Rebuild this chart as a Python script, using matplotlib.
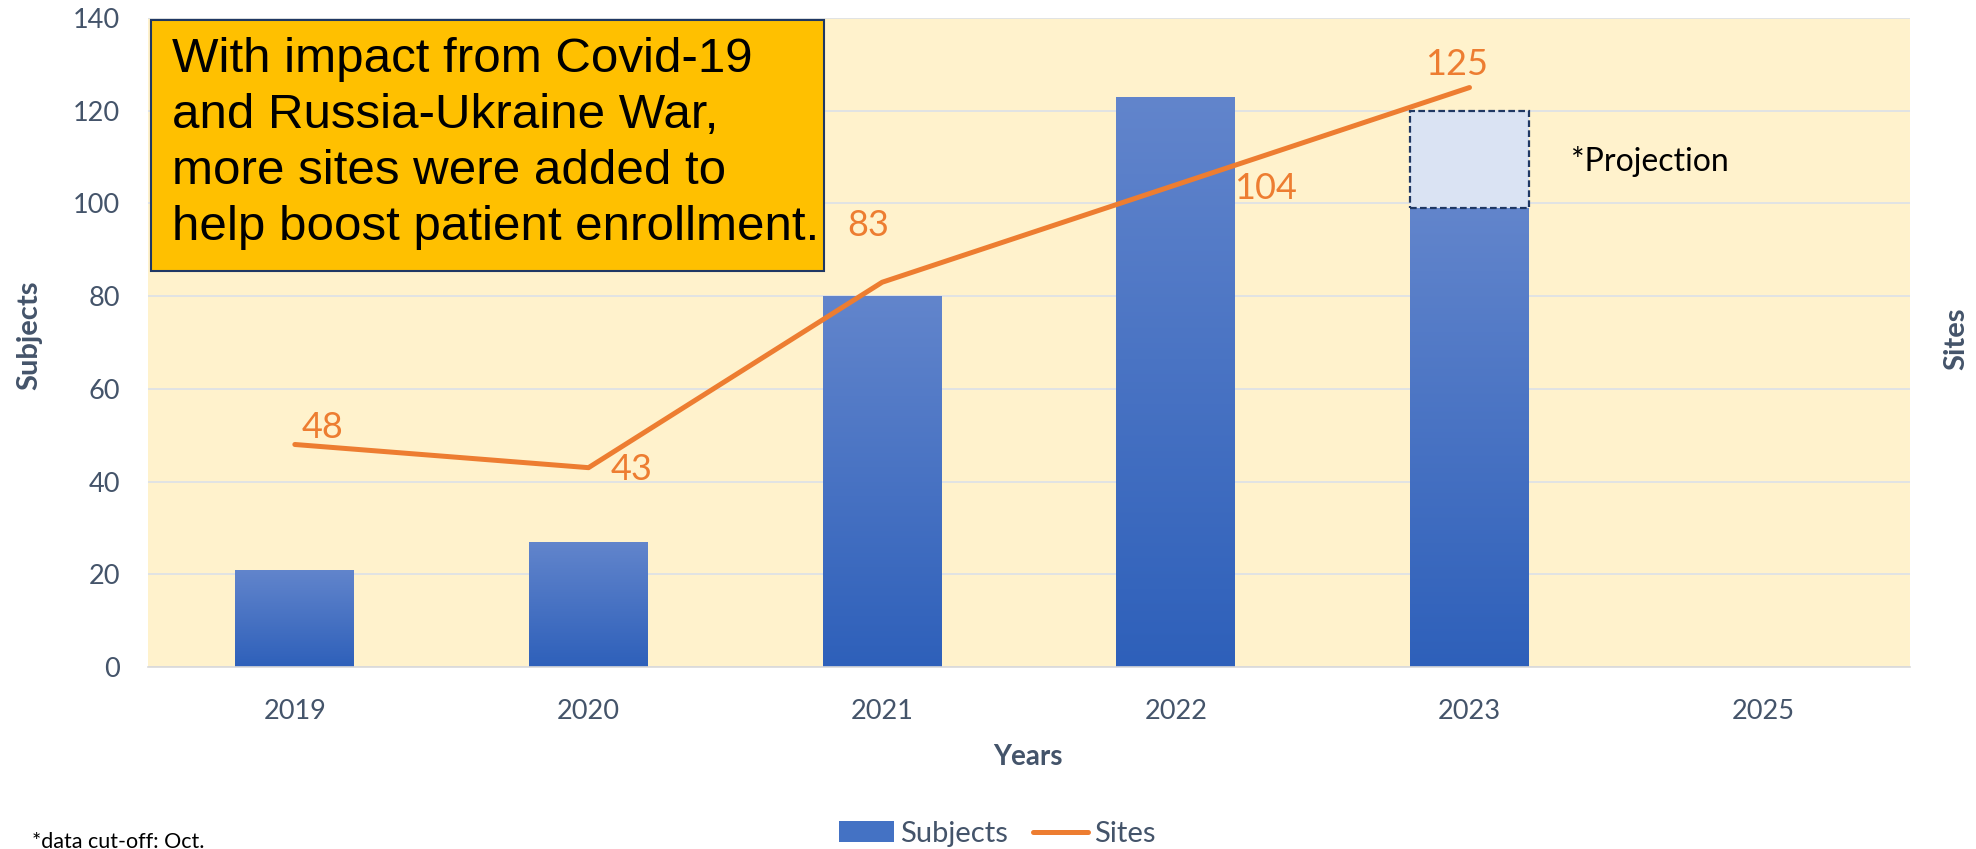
import numpy as np
import matplotlib.pyplot as plt
from matplotlib.colors import LinearSegmentedColormap
from matplotlib.patches import Rectangle, Patch
from matplotlib.lines import Line2D

# data
years = ['2019', '2020', '2021', '2022', '2023', '2025']
subjects = [21, 27, 80, 123, 99]
projected_top = 120          # 2023 projection goes up to this
sites = [48, 43, 83, 104, 125]

# label offsets (pixels) for the site labels
site_offsets = [(28, 17), (43, -2), (-14, 57), (90, -4), (-13, 23)]

W, H = 1976, 849
label_col = '#44546A'
orange = '#ED7D31'
font = 'Lato'

def fx(px):
    return px / W

def fy(py):
    return 1 - py / H

fig = plt.figure(figsize=(W / 100, H / 100), dpi=100)
ax = fig.add_axes([fx(148), fy(667), fx(1910) - fx(148), fy(18) - fy(667)])
ax.set_facecolor('#FFF2CC')

x = np.arange(len(years))
bw = 0.405

# gradient bars
cmap = LinearSegmentedColormap.from_list('bars', ['#2E60BA', '#6285CC'])
grad = np.linspace(0, 1, 256).reshape(-1, 1)
bars = ax.bar(x[:len(subjects)], subjects, width=bw, color='#4472C4', zorder=2)
for b in bars:
    x0, y0, w, h = b.get_x(), b.get_y(), b.get_width(), b.get_height()
    im = ax.imshow(grad, cmap=cmap, origin='lower', aspect='auto',
                   extent=[x0, x0 + w, y0, y0 + h], zorder=2)
    im.set_clip_path(b)

# projection box on top of 2023
i23 = years.index('2023')
ax.bar(x[i23], projected_top - subjects[i23], bottom=subjects[i23], width=bw,
       facecolor='#DAE3F3', edgecolor='#1F3864', linestyle=(0, (3, 1.5)),
       linewidth=1.6, zorder=3)
ax.text(i23 + 0.345, 109, '*Projection', fontsize=23, family=font,
        va='center', ha='left', color='black')

ax.set_xlim(-0.5, len(years) - 0.5)
ax.set_ylim(0, 140)
ax.set_yticks(range(0, 141, 20))
ax.set_xticks(x)
ax.set_xticklabels(years)
ax.set_axisbelow(True)
ax.yaxis.grid(True, color='#DCE0E8', linewidth=1.2)
for s in ['top', 'right', 'left']:
    ax.spines[s].set_visible(False)
ax.spines['bottom'].set_color('#D9D9D9')
ax.spines['bottom'].set_linewidth(1.2)
ax.tick_params(axis='both', length=0, labelsize=19.5, labelcolor=label_col)
ax.tick_params(axis='x', pad=23)
ax.tick_params(axis='y', pad=20)
for t in ax.get_xticklabels() + ax.get_yticklabels():
    t.set_family(font)

# sites line on secondary axis
ax2 = ax.twinx()
ax2.set_ylim(0, 140)
ax2.set_yticks([])
for s in ax2.spines.values():
    s.set_visible(False)
ax2.plot(x[:len(sites)], sites, color=orange, linewidth=3.6,
         solid_capstyle='round', solid_joinstyle='round', zorder=4)
for xi, v, off in zip(x, sites, site_offsets):
    ax2.annotate(str(v), (xi, v), xytext=off, textcoords='offset pixels',
                 ha='center', va='center', fontsize=26, family=font, color=orange)

# axis titles
fig.text(fx(29), fy(335), 'Subjects', rotation=90, ha='center', va='center',
         fontsize=21, fontweight='bold', family=font, color=label_col)
fig.text(fx(1956), fy(339), 'Sites', rotation=90, ha='center', va='center',
         fontsize=21, fontweight='bold', family=font, color=label_col)
fig.text(fx(1028), fy(757), 'Years', ha='center', va='center',
         fontsize=20, fontweight='bold', family=font, color=label_col)

# callout box
fig.add_artist(Rectangle((fx(151), fy(271)), fx(824) - fx(151), fy(20) - fy(271),
                         transform=fig.transFigure, facecolor='#FFC000',
                         edgecolor='#1F3864', linewidth=1.5, zorder=5))
fig.text(fx(172), fy(37),
         'With impact from Covid-19\nand Russia-Ukraine War,\n'
         'more sites were added to\nhelp boost patient enrollment.',
         ha='left', va='top', fontsize=35.5, family='Liberation Sans',
         color='black', linespacing=1.31, zorder=6)

# footnote
fig.text(fx(32), fy(842), '*data cut-off: Oct.', ha='left', va='center',
         fontsize=15.5, family=font, color='black')

# legend
handles = [Patch(facecolor='#4472C4', edgecolor='none'),
           Line2D([0], [0], color=orange, linewidth=3.6, solid_capstyle='round')]
fig.legend(handles, ['Subjects', 'Sites'], loc='center',
           bbox_to_anchor=(fx(997), fy(834)), ncol=2, frameon=False,
           prop={'family': font, 'size': 21}, labelcolor=label_col,
           handlelength=1.9, handleheight=0.72, handletextpad=0.2,
           columnspacing=0.85)

fig.savefig('out.png', dpi=100)
